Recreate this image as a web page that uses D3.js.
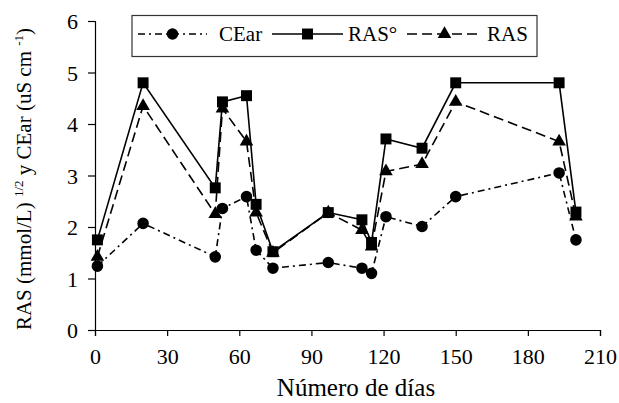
<!DOCTYPE html>
<html>
<head>
<meta charset="utf-8">
<script src="https://cdn.jsdelivr.net/npm/d3@7"></script>
</head>
<body style="margin:0">
<script>
// Data
const days = [1, 20, 50, 53, 63, 67, 74, 97, 111, 115, 121, 136, 150, 193, 200];
const cearValues = [1.24, 2.07, 1.42, 2.36, 2.59, 1.55, 1.2, 1.31, 1.2, 1.1, 2.2, 2.01, 2.59, 3.05, 1.75];
const rasZeroValues = [1.75, 4.8, 2.76, 4.43, 4.55, 2.44, 1.52, 2.28, 2.14, 1.7, 3.71, 3.53, 4.8, 4.8, 2.29];
const rasValues = [1.42, 4.35, 2.25, 4.3, 3.66, 2.28, 1.5, 2.28, 1.94, 1.62, 3.08, 3.22, 4.43, 3.66, 2.2];
const xTicks = [0, 30, 60, 90, 120, 150, 180, 210];
const yTicks = [0, 1, 2, 3, 4, 5, 6];
const seriesNames = ["CEar", "RAS\u00B0", "RAS"];

const FONT = "Times New Roman";

// Size and plot box
const WIDTH = 619;
const HEIGHT = 403;
const LEFT = 95;
const RIGHT = 600;
const TOP = 21;
const BOTTOM = 330;

const svg = d3
  .select("body")
  .append("svg")
  .attr("width", WIDTH)
  .attr("height", HEIGHT)
  .attr("font-family", FONT);

const xScale = d3.scaleLinear().domain([0, 210]).range([LEFT, RIGHT]);
const yScale = d3.scaleLinear().domain([0, 6]).range([BOTTOM, TOP]);

// Axes
const xAxis = svg
  .append("g")
  .attr("transform", `translate(0, ${BOTTOM})`)
  .call(d3.axisBottom(xScale).tickValues(xTicks).tickFormat(d3.format("d")).tickSize(6).tickPadding(12));

const yAxis = svg
  .append("g")
  .attr("transform", `translate(${LEFT}, 0)`)
  .call(d3.axisLeft(yScale).tickValues(yTicks).tickFormat(d3.format("d")).tickSize(7).tickPadding(10));

[xAxis, yAxis].forEach((ax) => {
  ax.attr("font-family", FONT).attr("font-size", null);
  ax.select(".domain").attr("stroke", "#000").attr("stroke-width", 1.2);
  ax.selectAll(".tick line").attr("stroke", "#000").attr("stroke-width", 1.2);
  ax.selectAll(".tick text")
    .attr("fill", "#000")
    .attr("font-family", FONT)
    .attr("font-size", 22);
});
yAxis.selectAll(".tick text").attr("dy", "0.36em");

// Axis titles
svg
  .append("text")
  .attr("x", 356)
  .attr("y", 396)
  .attr("text-anchor", "middle")
  .attr("font-family", FONT)
  .attr("font-size", 25)
  .text("Número de días");

const yTitle = svg
  .append("text")
  .attr("transform", "translate(31, 179) rotate(-90)")
  .attr("text-anchor", "middle")
  .attr("font-family", FONT)
  .attr("font-size", 21);
yTitle.append("tspan").text("RAS (mmol/L) ");
yTitle.append("tspan").attr("font-size", 13).attr("dy", "-8").text("1/2");
yTitle.append("tspan").attr("dy", "8").text(" y CEar (uS cm ");
yTitle.append("tspan").attr("font-size", 13).attr("dy", "-8").text("-1");
yTitle.append("tspan").attr("dy", "8").text(")");

// Series styles
const styles = [
  { values: cearValues, dash: "7,4,2,4", marker: d3.symbolCircle, size: 105 },
  { values: rasZeroValues, dash: null, marker: d3.symbolSquare, size: 120 },
  { values: rasValues, dash: "10,5", marker: d3.symbolTriangle, size: 80 },
];

const line = d3
  .line()
  .x((d) => xScale(d[0]))
  .y((d) => yScale(d[1]));

// draw RAS first, then RAS°, then CEar on top
[2, 1, 0].forEach((i) => {
  const s = styles[i];
  const pts = days.map((d, j) => [d, s.values[j]]);
  svg
    .append("path")
    .datum(pts)
    .attr("d", line)
    .attr("fill", "none")
    .attr("stroke", "#000")
    .attr("stroke-width", 1.6)
    .attr("stroke-dasharray", s.dash);

  svg
    .append("g")
    .selectAll("path")
    .data(pts)
    .enter()
    .append("path")
    .attr("d", d3.symbol().type(s.marker).size(s.size))
    .attr("transform", (d) => `translate(${xScale(d[0])}, ${yScale(d[1])})`)
    .attr("fill", "#000");
});

// Legend
const legend = svg.append("g");
legend
  .append("rect")
  .attr("x", 132)
  .attr("y", 15.5)
  .attr("width", 405)
  .attr("height", 41)
  .attr("fill", "#fff")
  .attr("stroke", "#333")
  .attr("stroke-width", 1.2);

const legendItems = [
  { x1: 138, x2: 207, tx: 219 },
  { x1: 272, x2: 343, tx: 348 },
  { x1: 407, x2: 482, tx: 487 },
];
const LEG_Y = 34;

legendItems.forEach((item, i) => {
  const s = styles[i];
  legend
    .append("line")
    .attr("x1", item.x1)
    .attr("x2", item.x2)
    .attr("y1", LEG_Y)
    .attr("y2", LEG_Y)
    .attr("stroke", "#000")
    .attr("stroke-width", 1.6)
    .attr("stroke-dasharray", s.dash);
  legend
    .append("path")
    .attr("d", d3.symbol().type(s.marker).size(s.size))
    .attr("transform", `translate(${(item.x1 + item.x2) / 2}, ${LEG_Y})`)
    .attr("fill", "#000");
  legend
    .append("text")
    .attr("x", item.tx)
    .attr("y", LEG_Y + 7)
    .attr("font-family", FONT)
    .attr("font-size", 21)
    .text(seriesNames[i]);
});
</script>
</body>
</html>
